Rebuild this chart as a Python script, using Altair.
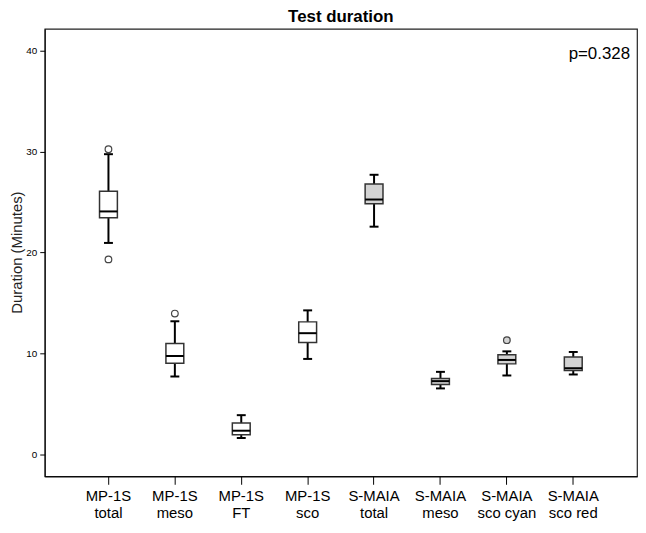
import altair as alt
import pandas as pd

# ---- data ----
categories = ["MP-1S|total", "MP-1S|meso", "MP-1S|FT", "MP-1S|sco",
              "S-MAIA|total", "S-MAIA|meso", "S-MAIA|sco cyan", "S-MAIA|sco red"]
devices = ["MP-1S", "MP-1S", "MP-1S", "MP-1S",
           "S-MAIA", "S-MAIA", "S-MAIA", "S-MAIA"]
lower = [20.96, 7.73, 1.64, 9.47, 22.57, 6.55, 7.83, 7.93]
q1 = [23.46, 9.04, 1.97, 11.10, 24.83, 6.94, 8.98, 8.32]
median = [24.08, 9.76, 2.36, 12.02, 25.26, 7.27, 9.37, 8.55]
q3 = [26.07, 11.01, 3.12, 13.14, 26.80, 7.54, 9.89, 9.67]
upper = [29.75, 13.20, 3.90, 14.28, 27.71, 8.19, 10.22, 10.16]

out_cat = ["MP-1S|total", "MP-1S|total", "MP-1S|meso", "S-MAIA|sco cyan"]
out_dev = ["MP-1S", "MP-1S", "MP-1S", "S-MAIA"]
out_val = [30.24, 19.33, 13.96, 11.33]

y_ticks = [0, 10, 20, 30, 40]
p_label = ["p=0.328"]
p_y = [39.7]

box_df = pd.DataFrame({"cat": categories, "device": devices, "lower": lower,
                       "q1": q1, "median": median, "q3": q3, "upper": upper})
out_df = pd.DataFrame({"cat": out_cat, "device": out_dev, "val": out_val})
txt_df = pd.DataFrame({"t": p_label, "y": p_y})

FONT = "Liberation Sans"

xenc = alt.X("cat:N", sort=categories,
             scale=alt.Scale(domain=categories, paddingInner=0, paddingOuter=0.46),
             axis=alt.Axis(title=None, labelExpr="split(datum.label, '|')",
                           labelAngle=0, tickSize=8, labelFontSize=15,
                           labelPadding=4, labelLineHeight=17, labelColor="black",
                           labelBaseline="top", tickColor="black",
                           domainColor="black", grid=False))
yscale = alt.Scale(domain=[-2.16, 42.16], nice=False, zero=False)
yaxis = alt.Axis(values=y_ticks, title="Duration (Minutes)", grid=False,
                 tickSize=5, labelFontSize=10, labelPadding=3, labelColor="black",
                 tickColor="black", domainColor="black",
                 titleFontSize=15, titleFontWeight="normal", titleColor="#222",
                 titleX=-28, titleY=225, titleAngle=270, titleBaseline="middle",
                 titleAlign="center")
fill_scale = alt.Scale(domain=["MP-1S", "S-MAIA"], range=["white", "#d3d3d3"])

base = alt.Chart(box_df)
whisk = base.mark_rule(color="black", strokeWidth=2).encode(
    x=xenc, y=alt.Y("lower:Q", scale=yscale, axis=yaxis), y2="upper:Q")
cap_lo = base.mark_tick(color="black", thickness=2, size=9, opacity=1).encode(
    x=xenc, y=alt.Y("lower:Q", scale=yscale, axis=yaxis))
cap_hi = base.mark_tick(color="black", thickness=2, size=9, opacity=1).encode(
    x=xenc, y=alt.Y("upper:Q", scale=yscale, axis=yaxis))
box = base.mark_bar(size=18, stroke="#333", strokeWidth=1.5).encode(
    x=xenc, y=alt.Y("q1:Q", scale=yscale, axis=yaxis), y2="q3:Q",
    fill=alt.Fill("device:N", scale=fill_scale, legend=None))
med = base.mark_tick(color="black", thickness=2, size=18, opacity=1).encode(
    x=xenc, y=alt.Y("median:Q", scale=yscale, axis=yaxis))
outl = alt.Chart(out_df).mark_circle(size=45, stroke="#444", strokeWidth=1.2,
                                     opacity=1).encode(
    x=xenc, y=alt.Y("val:Q", scale=yscale, axis=yaxis),
    fill=alt.Fill("device:N", scale=fill_scale, legend=None))
ptxt = alt.Chart(txt_df).mark_text(align="right", baseline="middle", fontSize=17,
                                   font=FONT, color="black").encode(
    x=alt.value(590), y=alt.Y("y:Q", scale=yscale, axis=yaxis), text="t:N")

chart = alt.layer(whisk, cap_lo, cap_hi, box, med, outl, ptxt).properties(
    width=597, height=451,
    autosize=alt.AutoSizeParams(type="none"),
    padding={"left": 37, "top": 19, "right": 1, "bottom": 50},
    title=alt.TitleParams("Test duration", fontSize=17, fontWeight="bold",
                          anchor="middle", offset=3, color="black", font=FONT),
).configure(font=FONT).configure_view(stroke="#222", strokeWidth=1.2)

chart.save("out.html", embed_options={"renderer": "svg", "actions": False})
